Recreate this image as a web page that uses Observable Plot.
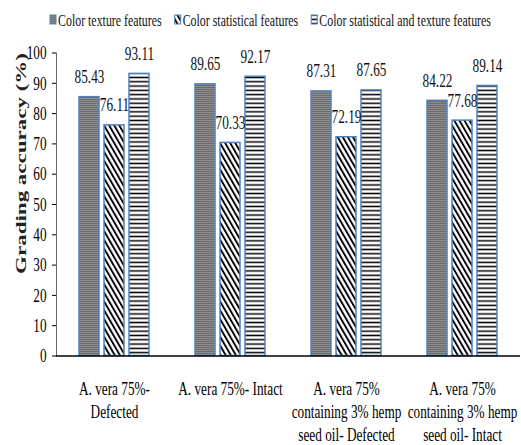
<!DOCTYPE html>
<html><head><meta charset="utf-8">
<script src="https://cdn.jsdelivr.net/npm/d3@7"></script>
<script src="https://cdn.jsdelivr.net/npm/@observablehq/plot@0.6"></script>
<style>
body{margin:0;background:#fff;font-family:"Liberation Serif",serif;}
svg{display:block;overflow:visible}
</style></head><body>
<div id="chart"></div>
<script>
const categories = [
  "A. vera 75%-\nDefected",
  "A. vera 75%- Intact",
  "A. vera 75%\ncontaining 3% hemp\nseed oil- Defected",
  "A. vera 75%\ncontaining 3% hemp\nseed oil- Intact"
];
const series = ["Color texture features", "Color statistical features", "Color statistical and texture features"];
const textureValues = [85.43, 89.65, 87.31, 84.22];
const statisticalValues = [76.11, 70.33, 72.19, 77.68];
const combinedValues = [93.11, 92.17, 87.65, 89.14];
const yTicks = [0, 10, 20, 30, 40, 50, 60, 70, 80, 90, 100];
const yLabel = "Grading accuracy (%)";

const seriesValues = [textureValues, statisticalValues, combinedValues];
const data = categories.flatMap((c, i) => series.map((s, j) => ({category: c, series: s, value: seriesValues[j][i]})));
const patternIds = ["pat0", "pat1", "pat2"];
const SX = 0.68;

const chart = Plot.plot({
  width: 521, height: 417,
  marginLeft: 55, marginRight: 0, marginTop: 24.5, marginBottom: 89.5,
  style: {fontFamily: "'Liberation Serif', serif", fontSize: "19.5px", color: "#000", background: "#fff", overflow: "visible"},
  fx: {domain: categories, padding: 0, label: null},
  x: {domain: series, paddingInner: 0.2, paddingOuter: 0.885, axis: null},
  y: {domain: [0, 100], label: null},
  color: {type: "ordinal", domain: series, range: patternIds.map(id => `url(#${id})`)},
  marks: [
    Plot.axisFx({anchor: "bottom", tickSize: 0, tickPadding: 23, lineHeight: 1.18, fontSize: 19.5, label: null}),
    Plot.axisY({ticks: yTicks, tickSize: 4, tickPadding: 6, fontSize: 19.5, label: null}),
    Plot.frame({anchor: "left", facet: "super", stroke: "#666"}),
    Plot.text([yLabel], {facet: "super", frameAnchor: "top-left", rotate: -90, textAnchor: "end", lineAnchor: "middle", dx: -36, fontSize: 23, fontWeight: "bold", fill: "#222"}),
    Plot.barY(data, {fx: "category", x: "series", y: "value", fill: "series", stroke: "#4f81bd", strokeWidth: 1.5}),
    Plot.text(data, {fx: "category", x: "series", y: "value", text: d => d.value.toFixed(2), lineAnchor: "bottom", dy: -14, fontSize: 19.5, fill: "#111"}),
    Plot.ruleY([0], {stroke: "#000", strokeWidth: 1.3})
  ]
});

// patterns
const defs = d3.select(chart).insert("defs", ":first-child");
const p0 = defs.append("pattern").attr("id", "pat0").attr("patternUnits", "userSpaceOnUse").attr("width", 4).attr("height", 2);
p0.append("rect").attr("width", 4).attr("height", 2).attr("fill", "#6c6c6c");
p0.append("rect").attr("width", 4).attr("height", 1).attr("fill", "#8e8e8e");
const p1 = defs.append("pattern").attr("id", "pat1").attr("patternUnits", "userSpaceOnUse").attr("width", 4.4).attr("height", 10).attr("patternTransform", "rotate(-30)");
p1.append("rect").attr("width", 4.4).attr("height", 10).attr("fill", "#fff");
p1.append("rect").attr("width", 1.9).attr("height", 10).attr("fill", "#000");
const p2 = defs.append("pattern").attr("id", "pat2").attr("patternUnits", "userSpaceOnUse").attr("width", 4).attr("height", 4.3);
p2.append("rect").attr("width", 4).attr("height", 4.3).attr("fill", "#fff");
p2.append("rect").attr("y", 1.4).attr("width", 4).attr("height", 1.5).attr("fill", "#000");

// legend
const legend = d3.create("svg").attr("width", 521).attr("height", 28)
  .style("font-family", "'Liberation Serif', serif").style("font-size", "17.5px");

document.getElementById("chart").append(legend.node(), chart);

let lx = 50;
series.forEach((s, i) => {
  legend.append("rect").attr("x", lx).attr("y", 15).attr("width", 6).attr("height", 9)
    .attr("fill", `url(#${patternIds[i]})`).attr("stroke", "#4f81bd").attr("stroke-width", 1);
  const t = legend.append("text").attr("transform", `translate(${lx + 8},20) scale(${SX},1)`)
    .attr("dy", "0.35em").attr("fill", "#111").text(s);
  lx = lx + 8 + t.node().getComputedTextLength() * SX + 13;
});

// squeeze chart text horizontally
chart.querySelectorAll("text").forEach(t => {
  const tr = t.getAttribute("transform");
  if (tr && /^\s*translate\([^)]*\)/.test(tr)) {
    t.setAttribute("transform", tr.replace(/^\s*(translate\([^)]*\))/, `$1 scale(${SX},1)`));
  } else if (!tr) {
    const x = +(t.getAttribute("x") || 0), y = +(t.getAttribute("y") || 0);
    t.removeAttribute("x"); t.removeAttribute("y");
    t.setAttribute("transform", `translate(${x},${y}) scale(${SX},1)`);
  }
});
</script>
</body></html>
